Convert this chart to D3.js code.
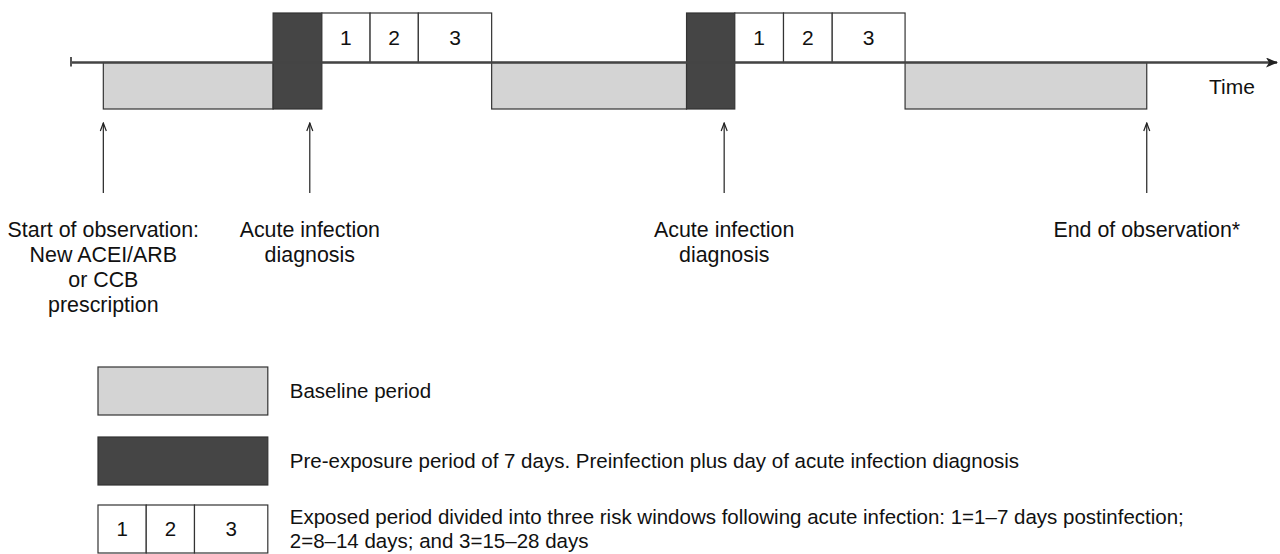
<!DOCTYPE html>
<html>
<head>
<meta charset="utf-8">
<script src="https://cdn.jsdelivr.net/npm/d3@7"></script>
<style>
	body { margin: 0; background: #fff; }
	text { font-family: "Liberation Sans", Arial, sans-serif; fill: #111; }
</style>
</head>
<body>
<script>
// schematic time units (not to scale)
var periods = [
	{type: "baseline", start: 6.7, end: 41.9},
	{type: "pre", start: 41.9, end: 52.0},
	{type: "risk", label: "1", start: 52.0, end: 62.0},
	{type: "risk", label: "2", start: 62.0, end: 72.0},
	{type: "risk", label: "3", start: 72.0, end: 87.2},
	{type: "baseline", start: 87.2, end: 127.6},
	{type: "pre", start: 127.6, end: 137.6},
	{type: "risk", label: "1", start: 137.6, end: 147.7},
	{type: "risk", label: "2", start: 147.7, end: 157.8},
	{type: "risk", label: "3", start: 157.8, end: 172.9},
	{type: "baseline", start: 172.9, end: 223.0}
];

var events = [
	{at: 6.7, lines: ["Start of observation:", "New ACEI/ARB", "or CCB", "prescription"]},
	{at: 49.5, lines: ["Acute infection", "diagnosis"]},
	{at: 135.4, lines: ["Acute infection", "diagnosis"]},
	{at: 223.0, lines: ["End of observation*"]}
];

var riskWindows = [
	{label: "1", len: 10.0},
	{label: "2", len: 10.0},
	{label: "3", len: 15.2}
];

var legendItems = [
	{type: "baseline", lines: ["Baseline period"]},
	{type: "pre", lines: ["Pre-exposure period of 7 days. Preinfection plus day of acute infection diagnosis"]},
	{type: "risk", lines: ["Exposed period divided into three risk windows following acute infection: 1=1\u20137 days postinfection;",
		"2=8\u201314 days; and 3=15\u201328 days"]}
];

var timeDomain = [0, 250];

var W = 1280, H = 554;
var svg = d3.select("body").append("svg")
	.attr("width", W)
	.attr("height", H);

var x = d3.scaleLinear().domain(timeDomain).range([71, 1277]);

var axisY = 62.5,
	topY = 13,
	bottomY = 109;

var fills = {baseline: "#d4d4d4", pre: "#454545", risk: "#fff"};

var defs = svg.append("defs");
defs.append("marker")
	.attr("id", "timeArrow")
	.attr("viewBox", "0 0 12 10")
	.attr("refX", 11)
	.attr("refY", 5)
	.attr("markerWidth", 12)
	.attr("markerHeight", 10)
	.attr("markerUnits", "userSpaceOnUse")
	.attr("orient", "auto")
	.append("path")
	.attr("d", "M0,0 L12,5 L0,10 L3,5 Z")
	.attr("fill", "#222");

defs.append("marker")
	.attr("id", "openArrow")
	.attr("viewBox", "0 0 10 10")
	.attr("refX", 5)
	.attr("refY", 1)
	.attr("markerWidth", 10)
	.attr("markerHeight", 10)
	.attr("markerUnits", "userSpaceOnUse")
	.attr("orient", "0")
	.append("path")
	.attr("d", "M2,9 L5,1 L8,9")
	.attr("fill", "none")
	.attr("stroke", "#222")
	.attr("stroke-width", 1.2);

// period boxes
var g = svg.append("g");
g.selectAll("rect.period")
	.data(periods)
	.enter().append("rect")
		.attr("class", "period")
		.attr("x", function(d){return x(d.start);})
		.attr("width", function(d){return x(d.end) - x(d.start);})
		.attr("y", function(d){return d.type == "baseline" ? axisY : topY;})
		.attr("height", function(d){
			if(d.type == "baseline") return bottomY - axisY;
			if(d.type == "pre") return bottomY - topY;
			return axisY - topY;
		})
		.attr("fill", function(d){return fills[d.type];})
		.attr("stroke", "#333")
		.attr("stroke-width", 1.2);

g.selectAll("text.win")
	.data(periods.filter(function(d){return d.type == "risk";}))
	.enter().append("text")
		.attr("class", "win")
		.attr("x", function(d){return (x(d.start) + x(d.end)) / 2;})
		.attr("y", (topY + axisY) / 2)
		.attr("dy", "0.36em")
		.attr("text-anchor", "middle")
		.attr("font-size", 21)
		.text(function(d){return d.label;});

// time axis
svg.append("line")
	.attr("x1", x(timeDomain[0]))
	.attr("x2", x(timeDomain[1]))
	.attr("y1", axisY)
	.attr("y2", axisY)
	.attr("stroke", "#444")
	.attr("stroke-width", 2.5)
	.attr("marker-end", "url(#timeArrow)");

svg.append("line")
	.attr("x1", x(timeDomain[0]))
	.attr("x2", x(timeDomain[0]))
	.attr("y1", axisY - 5.5)
	.attr("y2", axisY + 4)
	.attr("stroke", "#555")
	.attr("stroke-width", 2);

svg.append("text")
	.attr("x", 1232)
	.attr("y", 94)
	.attr("text-anchor", "middle")
	.attr("font-size", 21)
	.text("Time");

// event arrows and labels
var ev = svg.selectAll("g.event")
	.data(events)
	.enter().append("g")
		.attr("class", "event")
		.attr("transform", function(d){return "translate(" + x(d.at) + ",0)";});

ev.append("line")
	.attr("y1", 193)
	.attr("y2", 123)
	.attr("stroke", "#222")
	.attr("stroke-width", 1.2)
	.attr("marker-end", "url(#openArrow)");

ev.append("text")
	.attr("text-anchor", "middle")
	.attr("font-size", 21.4)
	.selectAll("tspan")
	.data(function(d){return d.lines;})
	.enter().append("tspan")
		.attr("x", 0)
		.attr("y", function(d, i){return 237 + i * 25;})
		.text(function(d){return d;});

// legend
var legX = 98,
	legW = x(d3.sum(riskWindows, function(d){return d.len;})) - x(0),
	legH = 48,
	legTops = [367, 437, 505];

var leg = svg.selectAll("g.leg")
	.data(legendItems)
	.enter().append("g")
		.attr("class", "leg")
		.attr("transform", function(d, i){return "translate(" + legX + "," + legTops[i] + ")";});

leg.filter(function(d){return d.type != "risk";})
	.append("rect")
		.attr("width", legW)
		.attr("height", legH)
		.attr("fill", function(d){return fills[d.type];})
		.attr("stroke", "#333")
		.attr("stroke-width", 1.2);

var riskLeg = leg.filter(function(d){return d.type == "risk";});
var acc = 0;
var winPos = riskWindows.map(function(w){
	var p = {label: w.label, x0: x(acc) - x(0), x1: x(acc + w.len) - x(0)};
	acc += w.len;
	return p;
});
var cells = riskLeg.selectAll("g.cell")
	.data(winPos)
	.enter().append("g")
		.attr("class", "cell");
cells.append("rect")
	.attr("x", function(d){return d.x0;})
	.attr("width", function(d){return d.x1 - d.x0;})
	.attr("height", legH)
	.attr("fill", "#fff")
	.attr("stroke", "#333")
	.attr("stroke-width", 1.2);
cells.append("text")
	.attr("x", function(d){return (d.x0 + d.x1) / 2;})
	.attr("y", legH / 2)
	.attr("dy", "0.36em")
	.attr("text-anchor", "middle")
	.attr("font-size", 20.5)
	.text(function(d){return d.label;});

leg.append("text")
	.attr("font-size", 20.5)
	.selectAll("tspan")
	.data(function(d){return d.lines;})
	.enter().append("tspan")
		.attr("x", legW + 22)
		.attr("y", function(d, i, nodes){
			var n = nodes.length;
			return legH / 2 + 7 + (i - (n - 1) / 2) * 24;
		})
		.text(function(d){return d;});
</script>
</body>
</html>
